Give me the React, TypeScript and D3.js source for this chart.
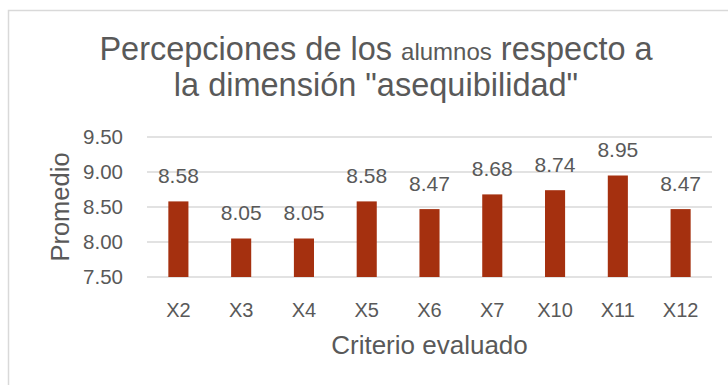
import React from "react";
import * as d3 from "d3";

const categories = ["X2", "X3", "X4", "X5", "X6", "X7", "X10", "X11", "X12"];
const values = [8.58, 8.05, 8.05, 8.58, 8.47, 8.68, 8.74, 8.95, 8.47];
const yTicks = [7.5, 8.0, 8.5, 9.0, 9.5];

const W = 728;
const H = 385;
const plot = { left: 147, right: 712, top: 137, bottom: 277 };
const textColor = "#595959";
const barColor = "#A5300F";
const font = "'Liberation Sans', Arial, sans-serif";

export default function App() {
  const x = d3
    .scaleBand<string>()
    .domain(categories)
    .range([plot.left, plot.right])
    .paddingInner(0.68)
    .paddingOuter(0.34);
  const y = d3.scaleLinear().domain([7.5, 9.5]).range([plot.bottom, plot.top]);
  const fmt = d3.format(".2f");

  return (
    <svg
      width={W}
      height={H}
      style={{ position: "absolute", left: 0, top: 0, background: "#fff" }}
      fontFamily={font}
    >
      <rect x={8.5} y={10.5} width={740} height={400} fill="#fff" stroke="#d9d9d9" strokeWidth={1.5} />

      <text x={376} y={60} textAnchor="middle" fill={textColor} fontSize={32.5}>
        Percepciones de los <tspan fontSize={24}>alumnos</tspan> respecto a
      </text>
      <text x={376} y={96} textAnchor="middle" fill={textColor} fontSize={32.5}>
        la dimensión "asequibilidad"
      </text>

      {yTicks.map((t) => (
        <g key={t}>
          <line
            x1={plot.left}
            x2={plot.right}
            y1={y(t)}
            y2={y(t)}
            stroke="#d9d9d9"
            strokeWidth={1.5}
          />
          <text
            x={123}
            y={y(t)}
            dy="0.35em"
            textAnchor="end"
            fill={textColor}
            fontSize={20.5}
          >
            {fmt(t)}
          </text>
        </g>
      ))}

      {categories.map((c, i) => {
        const cx = (x(c) ?? 0) + x.bandwidth() / 2;
        return (
          <g key={c}>
            <rect
              x={x(c)}
              y={y(values[i])}
              width={x.bandwidth()}
              height={y(7.5) - y(values[i])}
              fill={barColor}
            />
            <text
              x={cx}
              y={y(values[i]) - 18.5}
              textAnchor="middle"
              fill={textColor}
              fontSize={21}
            >
              {fmt(values[i])}
            </text>
            <text x={cx} y={317} textAnchor="middle" fill={textColor} fontSize={20}>
              {c}
            </text>
          </g>
        );
      })}

      <text
        x={(plot.left + plot.right) / 2}
        y={354}
        textAnchor="middle"
        fill={textColor}
        fontSize={26}
      >
        Criterio evaluado
      </text>
      <text
        transform={`translate(69,${(plot.top + plot.bottom) / 2}) rotate(-90)`}
        textAnchor="middle"
        fill={textColor}
        fontSize={25.5}
      >
        Promedio
      </text>
    </svg>
  );
}
